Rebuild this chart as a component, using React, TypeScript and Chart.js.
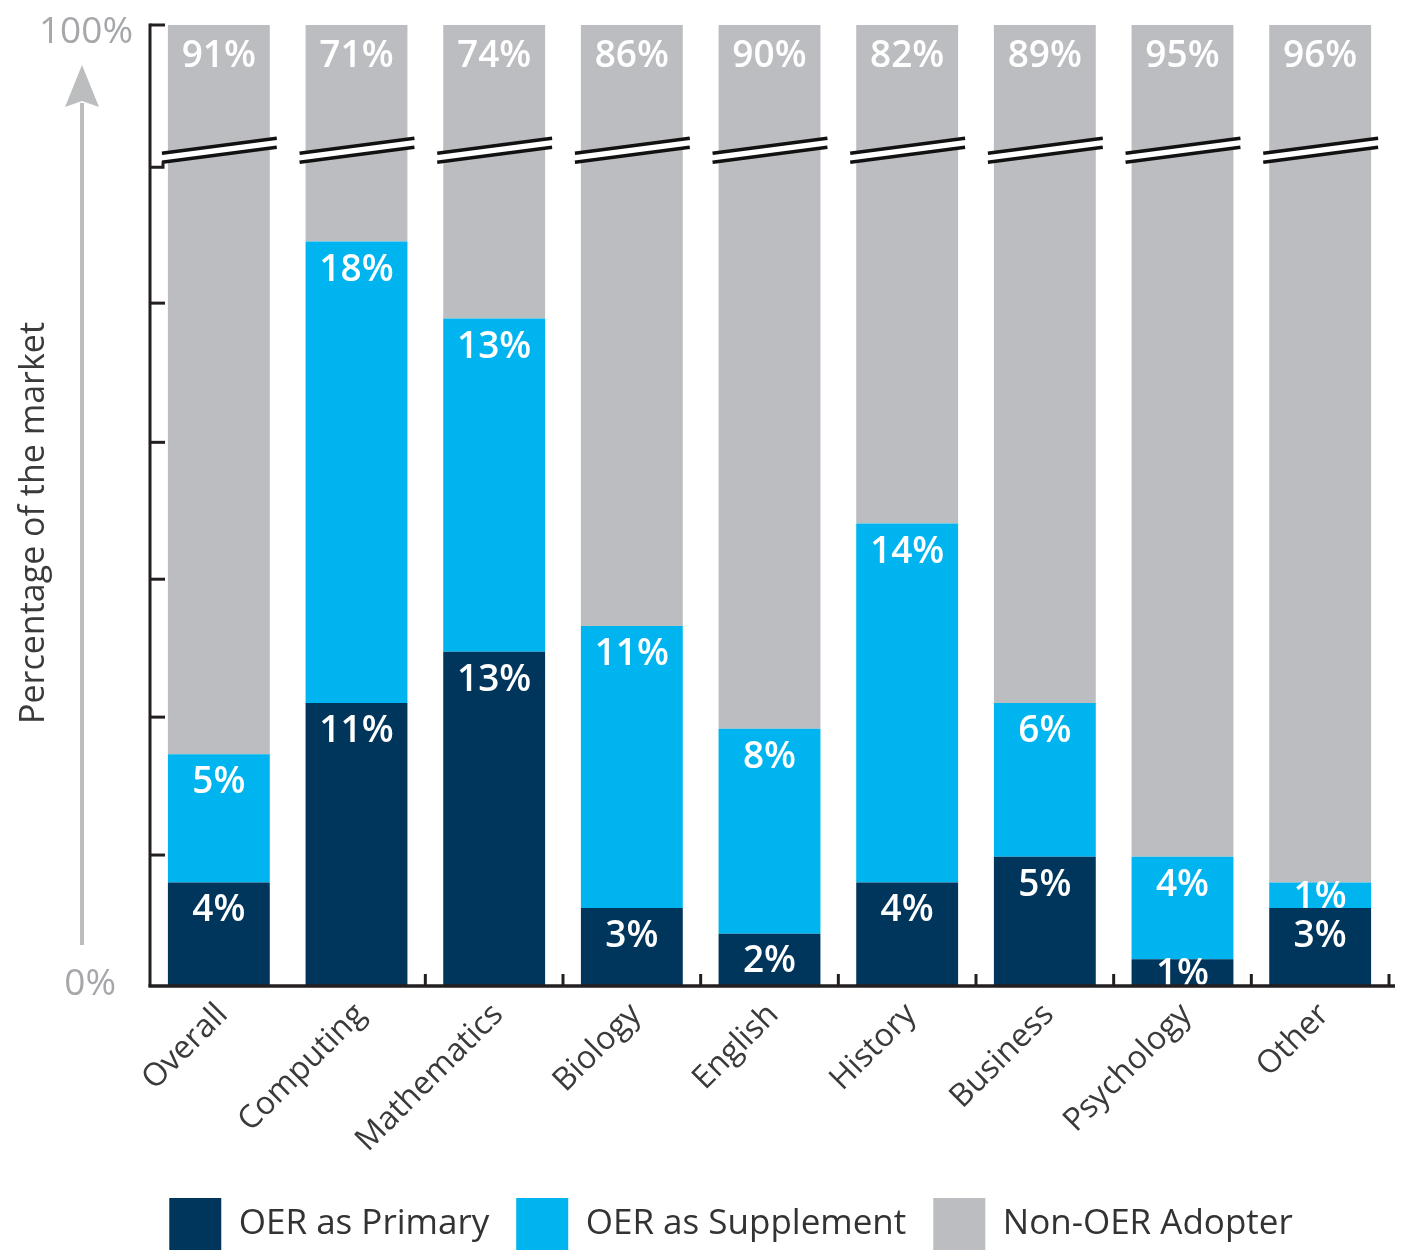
import React, { useEffect, useRef } from 'react';
import { Chart, registerables } from 'chart.js';

Chart.register(...registerables);

const CATEGORIES = ['Overall', 'Computing', 'Mathematics', 'Biology', 'English', 'History', 'Business', 'Psychology', 'Other'];
const OER_PRIMARY = [4, 11, 13, 3, 2, 4, 5, 1, 3];
const OER_SUPPLEMENT = [5, 18, 13, 11, 8, 14, 6, 4, 1];
const NON_OER_ADOPTER = [91, 71, 74, 86, 90, 82, 89, 95, 96];

const SERIES_NAMES = ['OER as Primary', 'OER as Supplement', 'Non-OER Adopter'];
const SERIES_COLORS = ['#00355c', '#00b5ef', '#bcbdc1'];

// Broken y axis: linear from 0% up to AXIS_BREAK, then compressed so that 100% sits at AXIS_TOP
const AXIS_BREAK = 31.9;
const AXIS_TOP = 37.45;
const Y_TICKS = [5.07, 10.45, 15.83, 21.17, 26.6];
const Y_LABEL_BOTTOM = '0%';
const Y_LABEL_TOP = '100%';
const Y_TITLE = 'Percentage of the market';

const FONT = '"Open Sans", "Noto Sans", sans-serif';
const AXIS_COLOR = '#231f20';

const brokenTop = NON_OER_ADOPTER.map((_, i) => AXIS_TOP - OER_PRIMARY[i] - OER_SUPPLEMENT[i]);
const LABEL_VALUES = [OER_PRIMARY, OER_SUPPLEMENT, NON_OER_ADOPTER];

const decorPlugin = {
  id: 'decor',
  afterDatasetsDraw(chart: any) {
    const { ctx, chartArea } = chart;
    const yScale = chart.scales.y;
    const breakPx = yScale.getPixelForValue(AXIS_BREAK);
    // break marks
    const grayMeta = chart.getDatasetMeta(2);
    ctx.save();
    grayMeta.data.forEach((el: any) => {
      const w = el.width;
      const l = el.x - w / 2 - 6;
      const r = el.x + w / 2 + 7;
      const lowL = breakPx - 5, lowR = breakPx - 20;
      const upL = breakPx - 14, upR = breakPx - 29;
      ctx.fillStyle = '#ffffff';
      ctx.beginPath();
      ctx.moveTo(l, upL); ctx.lineTo(r, upR); ctx.lineTo(r, lowR); ctx.lineTo(l, lowL); ctx.closePath();
      ctx.fill();
      ctx.strokeStyle = '#111111';
      ctx.lineWidth = 3.5;
      ctx.lineCap = 'butt';
      ctx.beginPath(); ctx.moveTo(l, upL); ctx.lineTo(r, upR); ctx.stroke();
      ctx.beginPath(); ctx.moveTo(l, lowL); ctx.lineTo(r, lowR); ctx.stroke();
    });
    ctx.restore();

    // segment labels
    ctx.save();
    ctx.beginPath();
    ctx.rect(chartArea.left, chartArea.top, chartArea.right - chartArea.left, chartArea.bottom - chartArea.top);
    ctx.clip();
    ctx.fillStyle = '#ffffff';
    ctx.font = `600 37px ${FONT}`;
    ctx.textAlign = 'center';
    ctx.textBaseline = 'alphabetic';
    chart.data.datasets.forEach((_: any, di: number) => {
      const meta = chart.getDatasetMeta(di);
      meta.data.forEach((el: any, i: number) => {
        const top = Math.min(el.y, el.base);
        const bot = Math.max(el.y, el.base);
        const off = di === 2 ? 42 : 39;
        const yb = Math.min(top + off, (top + bot) / 2 + 13);
        ctx.fillText(LABEL_VALUES[di][i] + '%', el.x, yb);
      });
    });
    ctx.restore();
  },
  afterDraw(chart: any) {
    const { ctx, chartArea } = chart;
    const yScale = chart.scales.y;
    const left = chartArea.left;
    const bottom = chartArea.bottom;
    const top = yScale.getPixelForValue(AXIS_TOP);
    const breakPx = yScale.getPixelForValue(AXIS_BREAK);
    ctx.save();
    ctx.strokeStyle = AXIS_COLOR;
    ctx.lineWidth = 3;
    // y axis line
    ctx.beginPath(); ctx.moveTo(left, top - 1.5); ctx.lineTo(left, bottom + 2); ctx.stroke();
    // y ticks (inward)
    [AXIS_TOP, ...Y_TICKS].forEach((v) => {
      const py = yScale.getPixelForValue(v);
      ctx.beginPath(); ctx.moveTo(left, py); ctx.lineTo(left + 15, py); ctx.stroke();
    });
    ctx.beginPath(); ctx.moveTo(left, breakPx); ctx.lineTo(left + 13, breakPx); ctx.lineTo(left + 13, breakPx - 5); ctx.stroke();
    // x axis line
    ctx.lineWidth = 3.5;
    ctx.beginPath(); ctx.moveTo(left - 1.5, bottom + 1); ctx.lineTo(chartArea.right + 6, bottom + 1); ctx.stroke();
    // x ticks (upward) at category boundaries
    const catW = (chartArea.right - chartArea.left) / CATEGORIES.length;
    ctx.lineWidth = 3;
    for (let k = 2; k <= CATEGORIES.length; k++) {
      const px = left + k * catW;
      ctx.beginPath(); ctx.moveTo(px, bottom); ctx.lineTo(px, bottom - 11); ctx.stroke();
    }
    ctx.restore();

    // arrow
    ctx.save();
    const ax = 82;
    ctx.strokeStyle = '#bbbdbf';
    ctx.fillStyle = '#bbbdbf';
    ctx.lineWidth = 4;
    ctx.beginPath(); ctx.moveTo(ax, bottom - 40); ctx.lineTo(ax, top + 78); ctx.stroke();
    ctx.beginPath();
    ctx.moveTo(ax, top + 40);
    ctx.lineTo(ax + 17, top + 82);
    ctx.lineTo(ax, top + 76);
    ctx.lineTo(ax - 17, top + 82);
    ctx.closePath();
    ctx.fill();
    ctx.restore();

    // y labels and title
    ctx.save();
    ctx.fillStyle = '#a5a7aa';
    ctx.font = `400 37px ${FONT}`;
    ctx.textAlign = 'right';
    ctx.textBaseline = 'alphabetic';
    ctx.fillText(Y_LABEL_TOP, 133, top + 18);
    ctx.fillText(Y_LABEL_BOTTOM, 116, bottom + 10);
    ctx.fillStyle = '#3a3a3a';
    ctx.font = `400 34px ${FONT}`;
    ctx.textAlign = 'center';
    ctx.translate(44, (top + bottom) / 2 + 18);
    ctx.rotate(-Math.PI / 2);
    ctx.fillText(Y_TITLE, 0, 0);
    ctx.restore();
  },
};

export default function App() {
  const ref = useRef<HTMLCanvasElement | null>(null);
  useEffect(() => {
    document.body.style.margin = '0';
    const canvas = ref.current;
    if (!canvas) return;
    const chart = new Chart(canvas, {
      type: 'bar',
      data: {
        labels: CATEGORIES,
        datasets: [
          { label: SERIES_NAMES[0], data: OER_PRIMARY, backgroundColor: SERIES_COLORS[0], borderWidth: 0 },
          { label: SERIES_NAMES[1], data: OER_SUPPLEMENT, backgroundColor: SERIES_COLORS[1], borderWidth: 0 },
          { label: SERIES_NAMES[2], data: brokenTop, backgroundColor: SERIES_COLORS[2], borderWidth: 0 },
        ],
      },
      options: {
        responsive: false,
        animation: false,
        devicePixelRatio: 1,
        events: [],
        layout: { padding: { left: 73, right: 20, top: 25, bottom: -6 } },
        datasets: { bar: { categoryPercentage: 1, barPercentage: 0.74 } },
        scales: {
          x: {
            stacked: true,
            grid: { display: false },
            border: { display: false },
            ticks: {
              color: '#3a3a3a',
              font: { family: FONT, size: 32, weight: 400 },
              minRotation: 45,
              maxRotation: 45,
              padding: 3,
              labelOffset: 4,
            },
            afterFit: (s: any) => { s.height = 186; },
          },
          y: {
            stacked: true,
            min: 0,
            max: AXIS_TOP,
            grid: { display: false },
            border: { display: false },
            ticks: { display: false },
            afterFit: (s: any) => { s.width = 77; },
          },
        },
        plugins: {
          tooltip: { enabled: false },
          legend: {
            position: 'bottom',
            labels: {
              boxWidth: 52,
              boxHeight: 52,
              padding: 27,
              color: '#333333',
              font: { family: FONT, size: 35, weight: 400 },
            },
          },
        },
      },
      plugins: [decorPlugin],
    });
    return () => chart.destroy();
  }, []);
  return <canvas ref={ref} width={1409} height={1254} style={{ display: 'block' }} />;
}
